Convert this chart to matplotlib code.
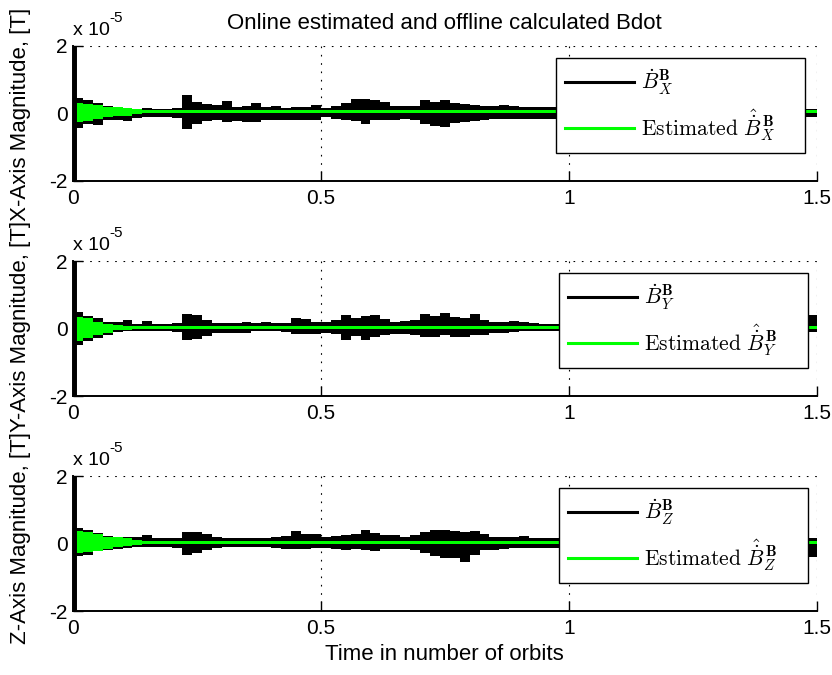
import numpy as np
import matplotlib
matplotlib.use('Agg')
import matplotlib.pyplot as plt
from matplotlib.lines import Line2D

plt.rcParams['font.family'] = ['Liberation Sans', 'DejaVu Sans']
plt.rcParams['mathtext.fontset'] = 'cm'

# ---------------- data (units of 1e-5 T), 75 bins of 0.02 orbit ----------------
bin_edges = np.linspace(0.0, 1.5, 76)

ax1_hi = [0.45, 0.40, 0.30, 0.23, 0.19, 0.17, 0.13, 0.15, 0.12, 0.12,
          0.15, 0.55, 0.35, 0.28, 0.25, 0.37, 0.20, 0.22, 0.30, 0.20,
          0.23, 0.17, 0.18, 0.20, 0.25, 0.17, 0.23, 0.30, 0.42, 0.42,
          0.40, 0.35, 0.23, 0.23, 0.23, 0.40, 0.35, 0.40, 0.30, 0.27,
          0.25, 0.23, 0.23, 0.25, 0.22, 0.18, 0.18, 0.18, 0.18, 0.17,
          0.18, 0.20, 0.22, 0.25, 0.22, 0.20, 0.18, 0.20, 0.22, 0.20,
          0.18, 0.17, 0.18, 0.20, 0.18, 0.16, 0.15, 0.16, 0.18, 0.16,
          0.15, 0.14, 0.13, 0.12, 0.12]
ax1_lo = [-0.42, -0.32, -0.35, -0.20, -0.20, -0.22, -0.12, -0.10, -0.10, -0.10,
          -0.12, -0.45, -0.30, -0.22, -0.20, -0.25, -0.22, -0.25, -0.25, -0.20,
          -0.20, -0.18, -0.20, -0.18, -0.18, -0.10, -0.15, -0.18, -0.22, -0.30,
          -0.20, -0.20, -0.20, -0.15, -0.20, -0.30, -0.37, -0.40, -0.27, -0.25,
          -0.23, -0.20, -0.17, -0.17, -0.17, -0.15, -0.15, -0.15, -0.15, -0.15,
          -0.16, -0.18, -0.20, -0.22, -0.20, -0.18, -0.16, -0.18, -0.20, -0.18,
          -0.16, -0.15, -0.16, -0.18, -0.16, -0.14, -0.13, -0.14, -0.15, -0.14,
          -0.13, -0.12, -0.12, -0.11, -0.11]

ax2_hi = [0.50, 0.38, 0.30, 0.20, 0.18, 0.25, 0.12, 0.22, 0.13, 0.13,
          0.15, 0.43, 0.40, 0.26, 0.16, 0.16, 0.17, 0.19, 0.16, 0.20,
          0.16, 0.16, 0.30, 0.28, 0.20, 0.20, 0.25, 0.40, 0.30, 0.38,
          0.40, 0.28, 0.19, 0.21, 0.25, 0.42, 0.38, 0.47, 0.33, 0.30,
          0.42, 0.26, 0.20, 0.20, 0.23, 0.19, 0.17, 0.13, 0.13, 0.14,
          0.15, 0.17, 0.20, 0.22, 0.20, 0.18, 0.20, 0.23, 0.20, 0.18,
          0.16, 0.15, 0.17, 0.18, 0.16, 0.14, 0.13, 0.14, 0.15, 0.13,
          0.12, 0.12, 0.11, 0.10, 0.40]
ax2_lo = [-0.48, -0.38, -0.28, -0.20, -0.10, -0.08, -0.07, -0.06, -0.06, -0.07,
          -0.10, -0.33, -0.30, -0.22, -0.13, -0.13, -0.13, -0.12, -0.08, -0.08,
          -0.08, -0.10, -0.16, -0.16, -0.16, -0.13, -0.17, -0.35, -0.23, -0.35,
          -0.26, -0.20, -0.16, -0.16, -0.20, -0.26, -0.24, -0.20, -0.26, -0.24,
          -0.20, -0.18, -0.13, -0.13, -0.10, -0.08, -0.08, -0.08, -0.08, -0.09,
          -0.10, -0.12, -0.14, -0.15, -0.13, -0.12, -0.14, -0.15, -0.13, -0.12,
          -0.11, -0.10, -0.11, -0.12, -0.10, -0.09, -0.08, -0.09, -0.10, -0.09,
          -0.08, -0.08, -0.08, -0.08, -0.10]

ax3_hi = [0.46, 0.41, 0.31, 0.21, 0.19, 0.20, 0.18, 0.25, 0.16, 0.16,
          0.16, 0.33, 0.33, 0.28, 0.19, 0.16, 0.16, 0.17, 0.16, 0.16,
          0.20, 0.23, 0.36, 0.29, 0.29, 0.19, 0.22, 0.26, 0.28, 0.39,
          0.30, 0.26, 0.25, 0.19, 0.25, 0.33, 0.41, 0.41, 0.36, 0.33,
          0.36, 0.27, 0.19, 0.19, 0.19, 0.21, 0.16, 0.16, 0.16, 0.17,
          0.18, 0.20, 0.22, 0.20, 0.19, 0.18, 0.20, 0.22, 0.20, 0.18,
          0.17, 0.16, 0.17, 0.18, 0.16, 0.15, 0.14, 0.15, 0.16, 0.15,
          0.14, 0.13, 0.13, 0.14, 0.15]
ax3_lo = [-0.38, -0.33, -0.23, -0.20, -0.16, -0.14, -0.10, -0.10, -0.10, -0.10,
          -0.12, -0.33, -0.28, -0.20, -0.14, -0.11, -0.11, -0.11, -0.11, -0.11,
          -0.12, -0.16, -0.16, -0.16, -0.13, -0.13, -0.15, -0.18, -0.16, -0.20,
          -0.23, -0.17, -0.16, -0.16, -0.20, -0.28, -0.36, -0.43, -0.43, -0.56,
          -0.33, -0.20, -0.20, -0.15, -0.13, -0.13, -0.13, -0.13, -0.13, -0.13,
          -0.14, -0.16, -0.18, -0.17, -0.15, -0.14, -0.16, -0.18, -0.16, -0.15,
          -0.14, -0.13, -0.14, -0.15, -0.13, -0.12, -0.12, -0.13, -0.14, -0.13,
          -0.12, -0.12, -0.12, -0.20, -0.40]

# estimated (green) band: transient part for first 7 bins, then steady band
est1_hi = [0.30, 0.28, 0.26, 0.18, 0.18, 0.15, 0.12] + [0.11] * 68
est1_lo = [-0.24, -0.22, -0.15, -0.10, -0.08, -0.08, -0.03] + [0.00] * 68
est2_hi = [0.35, 0.30, 0.20, 0.12, 0.09, 0.08, 0.08] + [0.08] * 68
est2_lo = [-0.38, -0.28, -0.18, -0.12, -0.05, -0.03, -0.02] + [-0.02] * 68
est3_hi = [0.36, 0.33, 0.28, 0.20, 0.18, 0.15, 0.10] + [0.08] * 68
est3_lo = [-0.28, -0.26, -0.22, -0.15, -0.10, -0.08, -0.03] + [-0.02] * 68

# first sample (t = 0) is an off-scale spike
spike_t = 0.0
spike_lo = -2.5
spike_hi = 2.5

axis_names = ['X', 'Y', 'Z']
black_hi = [ax1_hi, ax2_hi, ax3_hi]
black_lo = [ax1_lo, ax2_lo, ax3_lo]
green_hi = [est1_hi, est2_hi, est3_hi]
green_lo = [est1_lo, est2_lo, est3_lo]

xticks = [0, 0.5, 1, 1.5]
xticklabels = ['0', '0.5', '1', '1.5']
yticks = [-2, 0, 2]
yticklabels = ['-2', '0', '2']

# ---------------- figure ----------------
fig = plt.figure(figsize=(8.32, 6.75), dpi=100)
bottoms = [0.7319, 0.4133, 0.0948]
GREEN = '#00ff00'
grid_ls = (0, (1.5, 6))
LABEL_FS = 16

for i in range(3):
    ax = fig.add_axes([0.0877, bottoms[i], 0.894, 0.2])
    hi = np.append(black_hi[i], black_hi[i][-1])
    lo = np.append(black_lo[i], black_lo[i][-1])
    ghi = np.append(green_hi[i], green_hi[i][-1])
    glo = np.append(green_lo[i], green_lo[i][-1])
    ax.fill_between(bin_edges, lo, hi, step='post', color='black', lw=0, zorder=2)
    ax.fill_between(bin_edges, glo, ghi, step='post', color=GREEN, lw=0, zorder=3)
    ax.vlines(spike_t, spike_lo, spike_hi, color='black', lw=5, zorder=4)

    ax.set_xlim(0, 1.5)
    ax.set_ylim(-2, 2)
    ax.set_xticks(xticks)
    ax.set_xticklabels(xticklabels)
    ax.set_yticks(yticks)
    ax.set_yticklabels(yticklabels)
    ax.tick_params(direction='in', length=7, width=1, labelsize=15, pad=6)
    ax.tick_params(axis='y', pad=4)
    ax.spines['top'].set_visible(False)
    ax.spines['right'].set_visible(False)
    ax.spines['left'].set_linewidth(1.4)
    ax.spines['bottom'].set_linewidth(1.4)
    ax.set_axisbelow(True)
    ax.grid(True, color='black', linestyle=grid_ls, lw=0.8)

    t1 = ax.text(0.0, 1.082, 'x 10', transform=ax.transAxes, fontsize=14,
                 ha='left', va='baseline')
    ax.annotate('-5', xy=(1.0, 0.8), xycoords=t1, fontsize=11,
                ha='left', va='bottom')

    n = axis_names[i]
    h1 = Line2D([], [], color='black', lw=2.2)
    h2 = Line2D([], [], color=GREEN, lw=2.2)
    leg = ax.legend([h1, h2],
                    [r'$\dot{B}_{%s}^{\mathbf{B}}$' % n,
                     r'$\mathrm{Estimated}\ \hat{\dot{B}}_{%s}^{\,\mathbf{B}}$' % n],
                    loc='upper left', bbox_to_anchor=(0.649 + 0.004 * (i > 0), 0.911, 0.335, 0.0),
                    mode='expand', borderaxespad=0, fontsize=15.5, handlelength=3.2,
                    handletextpad=0.3, borderpad=0.45, labelspacing=0.5,
                    fancybox=False, framealpha=1, edgecolor='black')
    leg.get_frame().set_linewidth(1.0)
    if i == 0:
        ax.set_title('Online estimated and offline calculated Bdot', fontsize=LABEL_FS, pad=12)
    if i == 2:
        ax.set_xlabel('Time in number of orbits', fontsize=LABEL_FS, labelpad=4)

fig.text(21 / 832, 1 - 325.5 / 675,
         'Z-Axis Magnitude, [T]Y-Axis Magnitude, [T]X-Axis Magnitude, [T]',
         rotation=90, ha='center', va='center', fontsize=LABEL_FS)

fig.savefig('out.png', dpi=100)
